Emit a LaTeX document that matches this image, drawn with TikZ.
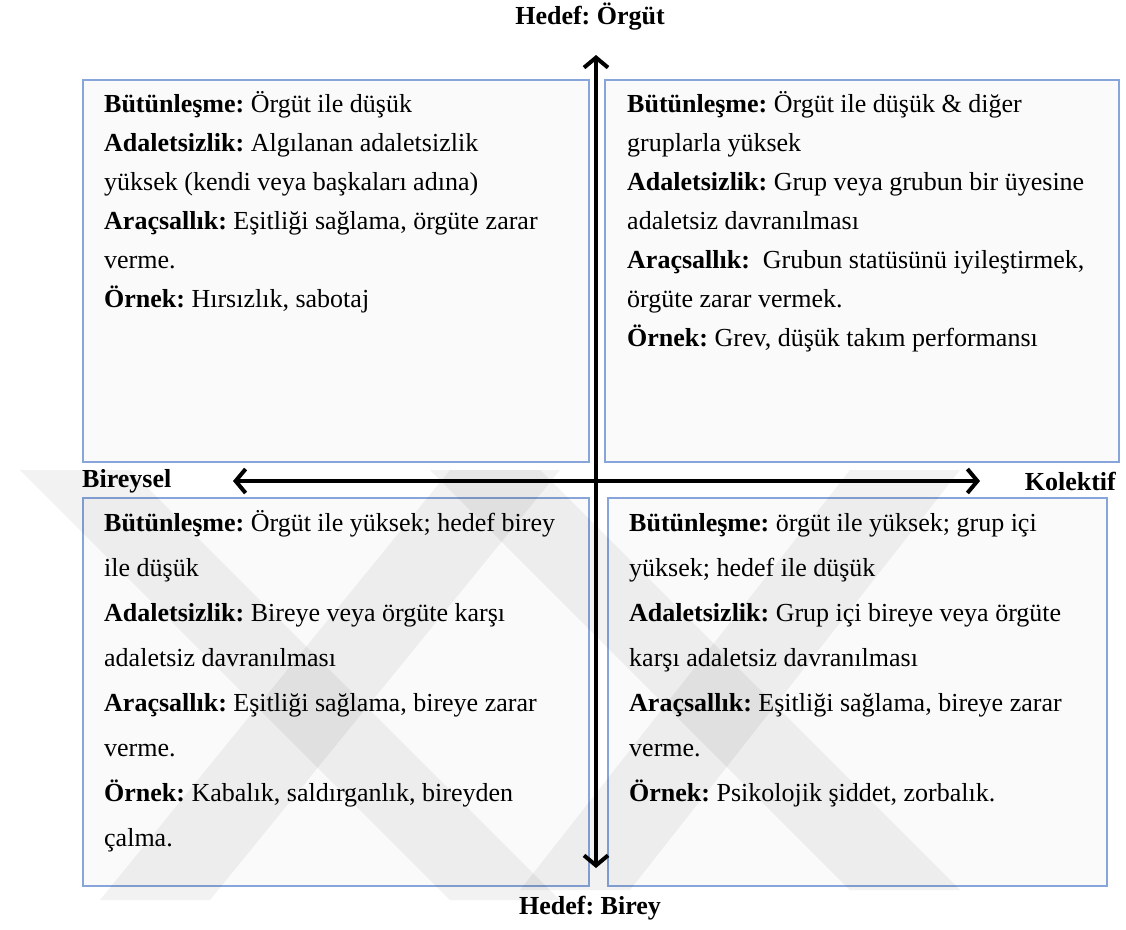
\documentclass[tikz,border=0pt]{standalone}
\usepackage{fontspec}
\setmainfont{Liberation Serif}
\usetikzlibrary{arrows.meta}
\definecolor{boxline}{RGB}{135,165,218}
\definecolor{boxfill}{RGB}{250,250,250}
\frenchspacing

\begin{document}
\begin{tikzpicture}[x=1pt,y=-1pt,
  quad/.style={draw=boxline, line width=1.6pt, fill=boxfill, inner sep=0pt,
    anchor=north west, minimum width=506pt},
  upperbody/.style={anchor=base west, inner sep=0pt},
  axislabel/.style={font=\fontsize{26}{30}\selectfont\bfseries, inner sep=0pt},
  axis/.style={line width=4pt,
    {Straight Barb[length=10pt,width=24pt,line width=4pt]}-{Straight Barb[length=10pt,width=24pt,line width=4pt]}},
  emblem/.style={fill=black, opacity=0.05}]

\useasboundingbox (0,0) rectangle (1126,929);

% quadrant boxes
\node[quad, minimum height=382pt] (tl) at (82,79) {};
\node[quad, minimum height=382pt, minimum width=514pt] (tr) at (604,79) {};
\node[quad, minimum height=388pt] (bl) at (82,497) {};
\node[quad, minimum height=388pt, minimum width=499pt] (br) at (607,497) {};

% faint emblem in the lower half
\fill[emblem] (20,470) -- (130,470) -- (560,900) -- (450,900) -- cycle;
\fill[emblem] (100,900) -- (210,900) -- (560,470) -- (450,470) -- cycle;
\fill[emblem] (430,470) -- (540,470) -- (960,890) -- (850,890) -- cycle;
\fill[emblem] (520,890) -- (630,890) -- (960,470) -- (850,470) -- cycle;

% quadrant texts
\node[upperbody] (tltext) at (104,112) {\parbox[t]{480pt}{\fontsize{26}{39}\selectfont\raggedright
  \textbf{Bütünleşme:} Örgüt ile düşük\\
  \textbf{Adaletsizlik:} Algılanan adaletsizlik\\
  yüksek (kendi veya başkaları adına)\\
  \textbf{Araçsallık:} Eşitliği sağlama, örgüte zarar\\
  verme.\\
  \textbf{Örnek:} Hırsızlık, sabotaj}};

\node[upperbody] (trtext) at (627,112) {\parbox[t]{490pt}{\fontsize{26}{39}\selectfont\raggedright
  \textbf{Bütünleşme:} Örgüt ile düşük \& diğer\\
  gruplarla yüksek\\
  \textbf{Adaletsizlik:} Grup veya grubun bir üyesine\\
  adaletsiz davranılması\\
  \textbf{Araçsallık:} \ Grubun statüsünü iyileştirmek,\\
  örgüte zarar vermek.\\
  \textbf{Örnek:} Grev, düşük takım performansı}};

\node[upperbody] (bltext) at (104,531) {\parbox[t]{480pt}{\fontsize{26}{45}\selectfont\raggedright
  \textbf{Bütünleşme:} Örgüt ile yüksek; hedef birey\\
  ile düşük\\
  \textbf{Adaletsizlik:} Bireye veya örgüte karşı\\
  adaletsiz davranılması\\
  \textbf{Araçsallık:} Eşitliği sağlama, bireye zarar\\
  verme.\\
  \textbf{Örnek:} Kabalık, saldırganlık, bireyden\\
  çalma.}};

\node[upperbody] (brtext) at (629,531) {\parbox[t]{475pt}{\fontsize{26}{45}\selectfont\raggedright
  \textbf{Bütünleşme:} örgüt ile yüksek; grup içi\\
  yüksek; hedef ile düşük\\
  \textbf{Adaletsizlik:} Grup içi bireye veya örgüte\\
  karşı adaletsiz davranılması\\
  \textbf{Araçsallık:} Eşitliği sağlama, bireye zarar\\
  verme.\\
  \textbf{Örnek:} Psikolojik şiddet, zorbalık.}};

% axis labels
\node[axislabel] (orgut) at (590,17) {Hedef: Örgüt};
\node[axislabel] (birey) at (590,908) {Hedef: Birey};
\node[axislabel, anchor=west] (bireysel) at (82,481) {Bireysel};
\node[axislabel, anchor=east] (kolektif) at (1116,481) {Kolektif};

% axes
\coordinate (vtop) at (596,55);
\coordinate (vbot) at (596,868);
\coordinate (hleft) at (233,481);
\coordinate (hright) at (980,481);
\draw[axis] (vbot) -- (vtop);
\draw[axis] (hleft) -- (hright);
\end{tikzpicture}
\end{document}
